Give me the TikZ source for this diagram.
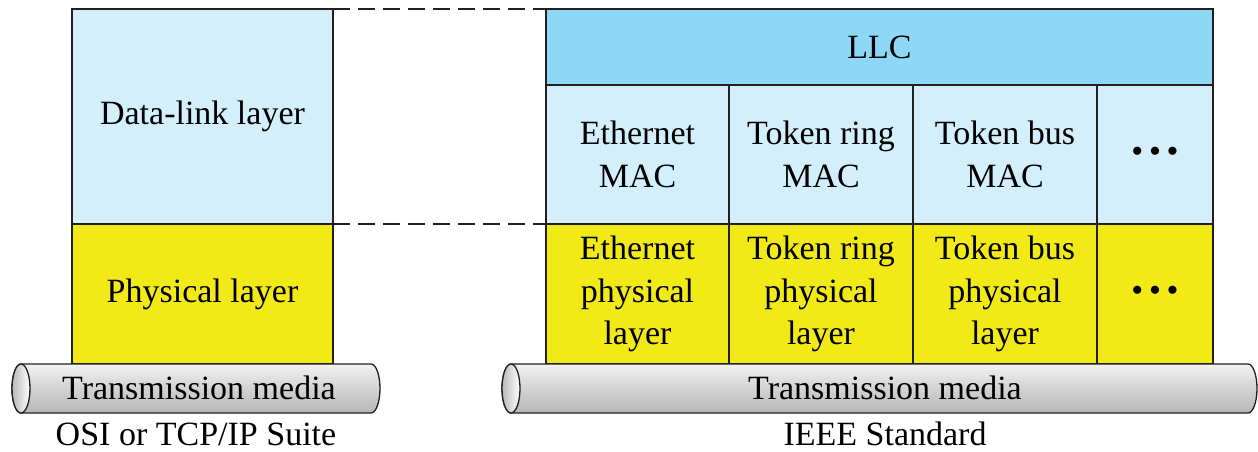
\documentclass[tikz,border=0pt]{standalone}
\usepackage{fontspec}
\setmainfont{Liberation Serif}
\definecolor{lblue}{HTML}{D4EFFC}
\definecolor{llcblue}{HTML}{8DD7F7}
\definecolor{phy}{HTML}{F2EA17}
\definecolor{ink}{HTML}{231F20}
\pgfdeclareverticalshading{tube}{100bp}{color(0bp)=(gray!50); color(15bp)=(gray!65); color(50bp)=(gray!35); color(80bp)=(gray!5); color(100bp)=(gray!40)}
\tikzset{
  cell/.style={draw=ink, line width=1.4pt, inner sep=0pt, outer sep=0pt, align=center,
    font=\fontsize{34}{42.5}\selectfont, anchor=north west},
  lbl/.style={inner sep=0pt, font=\fontsize{34}{42}\selectfont},
  dash line/.style={draw=ink, line width=1.4pt, dash pattern=on 17pt off 8pt},
  tubebody/.style={draw=ink, line width=1.3pt, shading=tube},
  tubeface/.style={draw=ink, line width=1.3pt, left color=gray!55, right color=white}
}
\begin{document}
\begin{tikzpicture}[x=1pt,y=1pt]
\useasboundingbox (0,0) rectangle (1258,-452);
% left stack
\node[cell, fill=lblue, minimum width=261pt, minimum height=215pt] (dl) at (72,-9) {Data-link layer};
\node[cell, fill=phy, minimum width=261pt, minimum height=140pt] (pl) at (72,-224) {Physical layer};
% right stack
\node[cell, fill=llcblue, minimum width=667pt, minimum height=76pt] (llc) at (546,-9) {LLC};
\node[cell, fill=lblue, minimum width=183pt, minimum height=139pt] (emac) at (546,-85) {Ethernet\\MAC};
\node[cell, fill=lblue, minimum width=184pt, minimum height=139pt] (trmac) at (729,-85) {Token ring\\MAC};
\node[cell, fill=lblue, minimum width=184pt, minimum height=139pt] (tbmac) at (913,-85) {Token bus\\MAC};
\node[cell, fill=lblue, minimum width=116pt, minimum height=139pt] (dmac) at (1097,-85) {•\,•\,•};
\node[cell, fill=phy, minimum width=183pt, minimum height=140pt] (ephy) at (546,-224) {Ethernet\\physical\\layer};
\node[cell, fill=phy, minimum width=184pt, minimum height=140pt] (trphy) at (729,-224) {Token ring\\physical\\layer};
\node[cell, fill=phy, minimum width=184pt, minimum height=140pt] (tbphy) at (913,-224) {Token bus\\physical\\layer};
\node[cell, fill=phy, minimum width=116pt, minimum height=140pt] (dphy) at (1097,-224) {•\,•\,•};
% dashed connectors
\draw[dash line] (dl.north east) -- (llc.north west);
\draw[dash line] (dl.south east) -- (ephy.north west);
% left tube
\path[tubebody] (21,-364) -- (371,-364) arc[start angle=90, end angle=-90, x radius=9, y radius=24.5]
  -- (21,-413) arc[start angle=270, end angle=90, x radius=9, y radius=24.5] -- cycle;
\path[tubeface] (21,-388.5) ellipse[x radius=9, y radius=24.5];
% right tube
\path[tubebody] (511,-364) -- (1248,-364) arc[start angle=90, end angle=-90, x radius=9, y radius=24.5]
  -- (511,-413) arc[start angle=270, end angle=90, x radius=9, y radius=24.5] -- cycle;
\path[tubeface] (511,-388.5) ellipse[x radius=9, y radius=24.5];
\node[lbl] (tm1) at (199,-388) {Transmission media};
\node[lbl] (tm2) at (885,-388) {Transmission media};
\node[lbl] (osi) at (196,-434) {OSI or TCP/IP Suite};
\node[lbl] (ieee) at (885,-434) {IEEE Standard};
\end{tikzpicture}
\end{document}
